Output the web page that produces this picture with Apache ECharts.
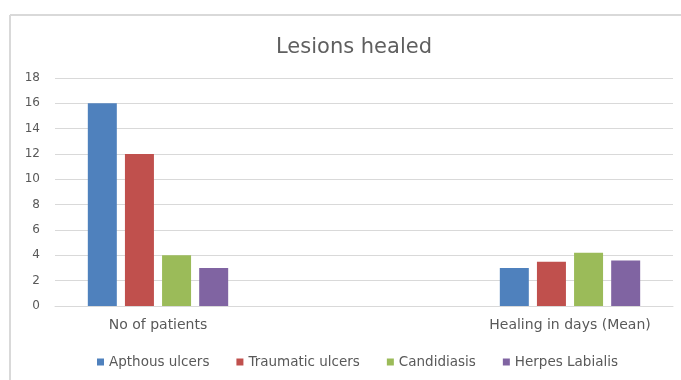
<!DOCTYPE html>
<html>
<head>
<meta charset="utf-8">
<script src="https://cdn.jsdelivr.net/npm/echarts@6/dist/echarts.min.js"></script>
<style>html,body{margin:0;padding:0;background:#fff;}#c{width:681px;height:380px;}</style>
</head>
<body>
<div id="c"></div>
<script>
var categories = ['No of patients', '', 'Healing in days (Mean)'];
var seriesNames = ['Apthous ulcers', 'Traumatic ulcers', 'Candidiasis', 'Herpes Labialis'];
var apthous = [16, null, 3.0];
var traumatic = [12, null, 3.5];
var candidiasis = [4, null, 4.2];
var herpes = [3, null, 3.6];
var yTicks = [0, 2, 4, 6, 8, 10, 12, 14, 16, 18];
var colors = ['#4F81BD', '#C0504D', '#9BBB59', '#8064A2'];
var values = [apthous, traumatic, candidiasis, herpes];

var chart = echarts.init(document.getElementById('c'), null, {renderer: 'canvas'});
var font = '"DejaVu Sans", sans-serif';
chart.setOption({
  animation: false,
  color: colors,
  title: {
    text: 'Lesions healed', left: 349, top: 32, textAlign: 'center',
    textStyle: {color: '#5f5f5f', fontSize: 21, fontWeight: 'normal', fontFamily: font}
  },
  legend: {
    data: seriesNames, left: 92, top: 350, itemWidth: 7, itemHeight: 7, itemGap: 27,
    icon: 'rect',
    textStyle: {color: '#595959', fontSize: 13.5, fontFamily: font}
  },
  grid: {left: 55, right: 8, top: 78, bottom: 74},
  xAxis: {
    type: 'category', data: categories,
    axisLine: {lineStyle: {color: '#D9D9D9'}},
    axisTick: {show: false},
    axisLabel: {color: '#595959', fontSize: 14, fontFamily: font, margin: 12}
  },
  yAxis: {
    type: 'value', min: 0, max: 18, interval: 2,
    axisLine: {show: false}, axisTick: {show: false},
    splitLine: {lineStyle: {color: '#D9D9D9'}},
    axisLabel: {color: '#595959', fontSize: 12, fontFamily: font, margin: 15,
      formatter: function (v) { return yTicks.indexOf(v) >= 0 ? String(v) : ''; }}
  },
  series: seriesNames.map(function (n, i) {
    return {name: n, type: 'bar', data: values[i], barWidth: 29, barGap: '28%'};
  }),
  graphic: [
    {type: 'line', shape: {x1: 10, y1: 15, x2: 681, y2: 15}, style: {stroke: '#D9D9D9', lineWidth: 2}},
    {type: 'line', shape: {x1: 10, y1: 15, x2: 10, y2: 380}, style: {stroke: '#D9D9D9', lineWidth: 2}}
  ]
});
</script>
</body>
</html>
